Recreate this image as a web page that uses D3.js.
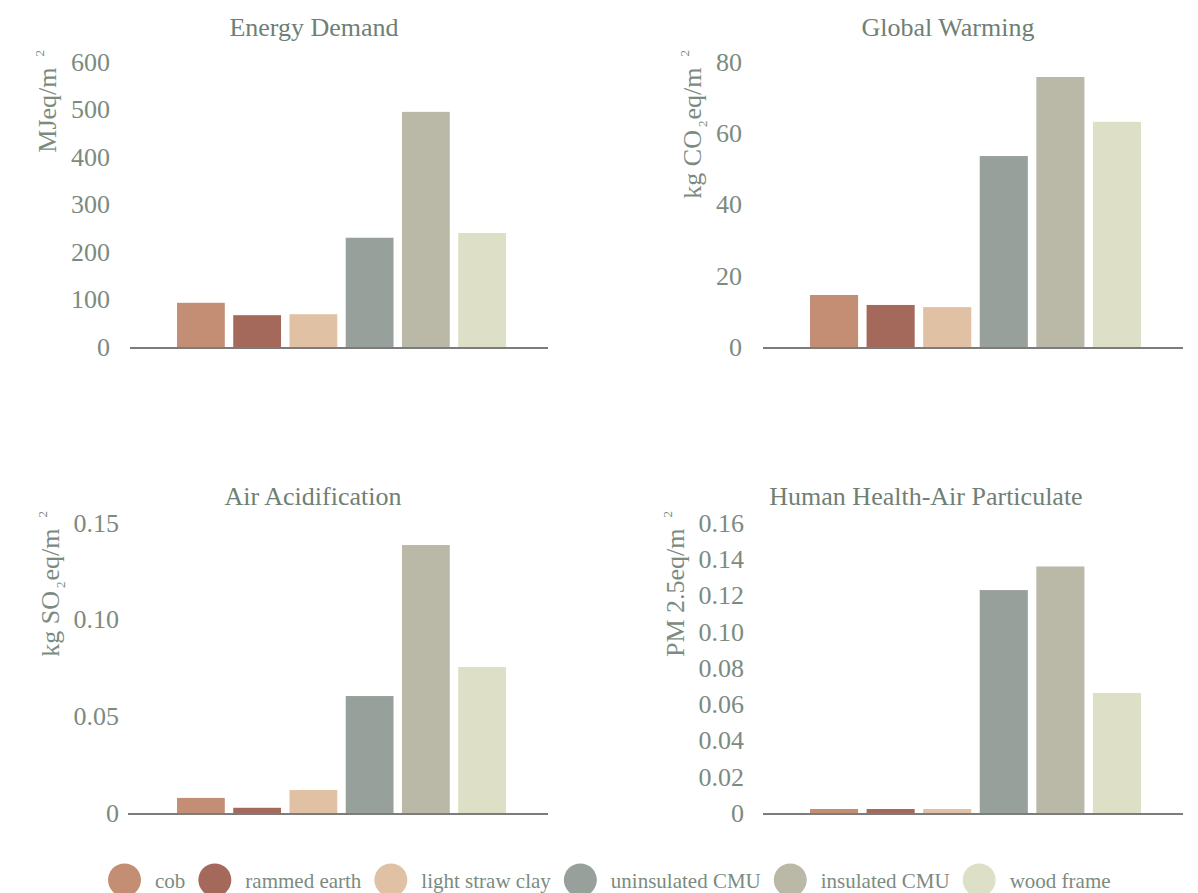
<!DOCTYPE html>
<html>
<head>
<meta charset="utf-8">
<script src="https://cdn.jsdelivr.net/npm/d3@7"></script>
<style>
  html, body { margin: 0; padding: 0; background: #ffffff; }
  svg { display: block; }
  text { font-family: "Liberation Serif", "Times New Roman", "DejaVu Serif", serif; }
</style>
</head>
<body>
<script>
// ---------- data ----------
const categories = ["cob", "rammed earth", "light straw clay", "uninsulated CMU", "insulated CMU", "wood frame"];
const colors = ["#c48e74", "#a5695b", "#e1c1a3", "#98a09b", "#bab8a7", "#dde0c6"];

const panelTitles = ["Energy Demand", "Global Warming", "Air Acidification", "Human Health-Air Particulate"];

const energyDemand      = [93, 67, 69, 230, 495, 240];
const globalWarming     = [14.6, 11.8, 11.2, 53.6, 75.8, 63.2];
const airAcidification  = [0.0078, 0.0027, 0.0119, 0.0605, 0.1386, 0.0755];
const airParticulate    = [0.0022, 0.0022, 0.0022, 0.123, 0.136, 0.0662];

const energyTicks = [0, 100, 200, 300, 400, 500, 600];
const energyTickLabels = ["0", "100", "200", "300", "400", "500", "600"];
const warmingTicks = [0, 20, 40, 60, 80];
const warmingTickLabels = ["0", "20", "40", "60", "80"];
const acidTicks = [0, 0.05, 0.10, 0.15];
const acidTickLabels = ["0", "0.05", "0.10", "0.15"];
const particTicks = [0, 0.02, 0.04, 0.06, 0.08, 0.10, 0.12, 0.14, 0.16];
const particTickLabels = ["0", "0.02", "0.04", "0.06", "0.08", "0.10", "0.12", "0.14", "0.16"];

// y-axis labels as segments: [text, kind]  kind: "" | "sub" | "sup"
const energyUnit  = [["MJeq/m", ""], ["2", "sup"]];
const warmingUnit = [["kg CO", ""], ["2", "sub"], ["eq/m", ""], ["2", "sup"]];
const acidUnit    = [["kg SO", ""], ["2", "sub"], ["eq/m", ""], ["2", "sup"]];
const particUnit  = [["PM 2.5eq/m", ""], ["2", "sup"]];

// ---------- layout ----------
const W = 1198, H = 893;
const textColor = "#7b8b80";
const titleColor = "#6f7f74";

const panels = [
  { title: panelTitles[0], values: energyDemand,     ticks: energyTicks,  labels: energyTickLabels,  unit: energyUnit,  col: 0, row: 0, pad: 20, titleShift: -25 },
  { title: panelTitles[1], values: globalWarming,    ticks: warmingTicks, labels: warmingTickLabels, unit: warmingUnit, col: 1, row: 0, pad: 21, titleShift: -25 },
  { title: panelTitles[2], values: airAcidification, ticks: acidTicks,    labels: acidTickLabels,    unit: acidUnit,    col: 0, row: 1, pad: 11, titleShift: -26 },
  { title: panelTitles[3], values: airParticulate,   ticks: particTicks,  labels: particTickLabels,  unit: particUnit,  col: 1, row: 1, pad: 19, titleShift: -47 }
];

const colX = [[130, 548], [763, 1183]];
const rowY = [[62, 347], [523, 813]];
const titleBase = [36, 505];

const svg = d3.select("body").append("svg").attr("width", W).attr("height", H);

panels.forEach(p => {
  const [x0, x1] = colX[p.col];
  const [yTop, yBot] = rowY[p.row];
  const g = svg.append("g");

  const x = d3.scaleBand().domain(categories)
    .range([x0 + 47, x1 - 42]).paddingInner(0.15).paddingOuter(0);
  const y = d3.scaleLinear().domain([0, d3.max(p.ticks)]).range([yBot, yTop]);

  // bars
  g.selectAll("rect.bar").data(p.values).join("rect")
    .attr("class", "bar")
    .attr("x", (d, i) => x(categories[i]))
    .attr("width", x.bandwidth())
    .attr("y", d => y(d))
    .attr("height", d => y(0) - y(d))
    .attr("fill", (d, i) => colors[i]);

  // y axis (labels only)
  const yAxis = d3.axisLeft(y).tickValues(p.ticks)
    .tickFormat((d, i) => p.labels[i]).tickSize(0).tickPadding(p.pad);
  const ag = g.append("g").attr("transform", `translate(${x0},0)`).call(yAxis);
  ag.attr("font-family", null).attr("font-size", null);
  ag.select(".domain").remove();
  ag.selectAll("text").attr("fill", textColor).attr("font-size", 26);

  // x axis baseline
  g.append("line")
    .attr("x1", x0 - (p.pad < 15 ? 2 : 0)).attr("x2", x1)
    .attr("y1", y(0) + 1).attr("y2", y(0) + 1)
    .attr("stroke", "#7c7c7c").attr("stroke-width", 2);

  // title
  g.append("text")
    .attr("x", (x0 + x1) / 2 + p.titleShift)
    .attr("y", titleBase[p.row])
    .attr("text-anchor", "middle")
    .attr("fill", titleColor)
    .attr("font-size", 26)
    .text(p.title);

  // y label placed relative to tick labels
  const bb = ag.node().getBBox();
  const lx = x0 + bb.x - 15;
  const ly = yTop - 12;
  const t = g.append("text")
    .attr("transform", `translate(${lx},${ly}) rotate(-90)`)
    .attr("text-anchor", "end")
    .attr("fill", textColor)
    .attr("font-size", 26);
  p.unit.forEach((seg, i) => {
    const prev = i > 0 ? p.unit[i - 1][1] : "";
    let dy = 0, dx = 0;
    if (prev === "sub") dy -= 6;
    if (prev === "sup") dy += 12;
    if (seg[1] === "sub") { dy += 6; dx = 3; }
    if (seg[1] === "sup") { dy -= 12; dx = 11; }
    if (prev === "sub") dx = 1;
    t.append("tspan")
      .attr("dy", dy)
      .attr("dx", dx)
      .attr("font-size", seg[1] ? 13 : 26)
      .text(seg[0]);
  });
});

// ---------- legend ----------
const legend = svg.append("g");
let cursor = 108;
categories.forEach((c, i) => {
  const item = legend.append("g");
  item.append("circle")
    .attr("cx", cursor + 16.5).attr("cy", 880).attr("r", 16.5)
    .attr("fill", colors[i]);
  const tx = item.append("text")
    .attr("x", cursor + 47).attr("y", 888)
    .attr("fill", textColor)
    .attr("font-size", 21)
    .text(c);
  const w = tx.node().getComputedTextLength();
  cursor = cursor + 47 + w + 13;
});
</script>
</body>
</html>
